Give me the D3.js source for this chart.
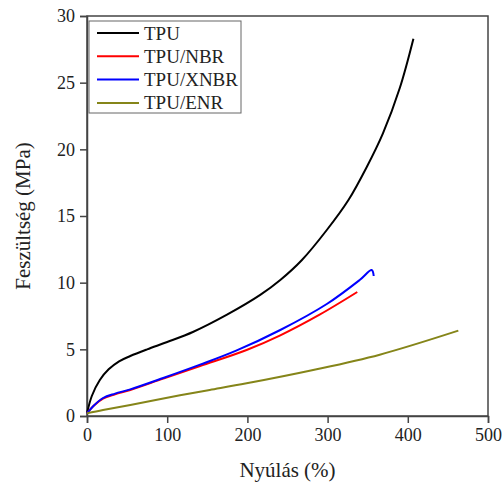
<!DOCTYPE html>
<html>
<head>
<meta charset="utf-8">
<script src="https://cdn.jsdelivr.net/npm/d3@7"></script>
<style>
  body { margin: 0; background: #fff; }
  text { font-family: "Liberation Serif", "Times New Roman", serif; fill: #222; }
</style>
</head>
<body>
<div id="chart"></div>
<script>
// DATA

var seriesNames = ["TPU", "TPU/NBR", "TPU/XNBR", "TPU/ENR"]
var seriesColors = ["#000000", "#ff0000", "#0000ff", "#858519"]

var tpuX = [0, 6, 16, 27, 40, 54, 75, 100, 132, 174, 216, 241, 268, 299, 326, 349, 369, 390, 407]
var tpuY = [0.2, 1.5, 2.7, 3.5, 4.1, 4.5, 5.0, 5.55, 6.3, 7.58, 9.08, 10.2, 11.7, 13.95, 16.2, 18.7, 21.2, 24.6, 28.3]

var nbrX = [0, 8, 20, 35, 54, 95, 141, 199, 241, 290, 337]
var nbrY = [0.2, 0.75, 1.3, 1.62, 1.95, 2.8, 3.75, 4.95, 6.05, 7.6, 9.3]

var xnbrX = [0, 8, 20, 35, 54, 95, 141, 186, 241, 299, 340, 355, 357.5]
var xnbrY = [0.2, 0.75, 1.35, 1.68, 2.0, 2.85, 3.85, 4.9, 6.45, 8.4, 10.2, 10.95, 10.5]

var enrX = [0, 20, 54, 116, 153, 199, 282, 365, 463]
var enrY = [0.2, 0.45, 0.83, 1.55, 1.95, 2.45, 3.45, 4.6, 6.4]

var xTicks = [0, 100, 200, 300, 400, 500]
var yTicks = [0, 5, 10, 15, 20, 25, 30]

// DIMENSIONS

var svgWidth = 503
var svgHeight = 484

var margin = { top: 16, left: 87, right: 15, bottom: 68 }

var width = svgWidth - margin.left - margin.right
var height = svgHeight - margin.top - margin.bottom

var svg = d3.select("#chart").append("svg")
    .attr("width", svgWidth)
    .attr("height", svgHeight)

var chartGroup = svg.append("g")
    .attr("transform", `translate(${margin.left}, ${margin.top})`)

var xScale = d3.scaleLinear().domain([0, 500]).range([0, width])
var yScale = d3.scaleLinear().domain([0, 30]).range([height, 0])

// frame
chartGroup.append("rect")
    .attr("width", width)
    .attr("height", height)
    .attr("fill", "none")
    .attr("stroke", "#444")
    .attr("stroke-width", 1.5)

var xAxis = d3.axisBottom(xScale).tickValues(xTicks).tickSize(7).tickPadding(5)
var yAxis = d3.axisLeft(yScale).tickValues(yTicks).tickSize(7).tickPadding(5)

var gx = chartGroup.append("g")
    .attr("transform", `translate(0,${height})`)
    .call(xAxis)
var gy = chartGroup.append("g")
    .call(yAxis)

;[gx, gy].forEach(g => {
    g.attr("font-family", "'Liberation Serif', serif")
    g.select(".domain").attr("stroke", "#444").attr("stroke-width", 1.5)
    g.selectAll(".tick line").attr("stroke", "#444").attr("stroke-width", 1.5)
    g.selectAll(".tick text")
        .style("font-size", "18px")
        .attr("fill", "#222")
})

// lines
var allX = [tpuX, nbrX, xnbrX, enrX]
var allY = [tpuY, nbrY, xnbrY, enrY]

var line = d3.line()
    .x(d => xScale(d[0]))
    .y(d => yScale(d[1]))
    .curve(d3.curveCatmullRom.alpha(0.5))

allX.forEach((xs, i) => {
    var pts = xs.map((x, j) => [x, allY[i][j]])
    chartGroup.append("path")
        .datum(pts)
        .attr("d", line)
        .attr("fill", "none")
        .attr("stroke", seriesColors[i])
        .attr("stroke-width", 2)
})

// legend
var legend = chartGroup.append("g")
    .attr("transform", "translate(2, 5)")

legend.append("rect")
    .attr("width", 152)
    .attr("height", 92)
    .attr("fill", "#fff")
    .attr("stroke", "#666")
    .attr("stroke-width", 1)

seriesNames.forEach((name, i) => {
    var yy = 12 + i * 23.3
    legend.append("line")
        .attr("x1", 8).attr("x2", 50)
        .attr("y1", yy).attr("y2", yy)
        .attr("stroke", seriesColors[i])
        .attr("stroke-width", 2)
    legend.append("text")
        .attr("x", 55)
        .attr("y", yy + 6.5)
        .style("font-size", "19px")
        .text(name)
})

// axis titles
svg.append("text")
    .attr("x", margin.left + width / 2)
    .attr("y", 477)
    .attr("text-anchor", "middle")
    .style("font-size", "21px")
    .text("Nyúlás (%)")

svg.append("text")
    .attr("transform", `translate(30, ${margin.top + height / 2}) rotate(-90)`)
    .attr("text-anchor", "middle")
    .style("font-size", "21px")
    .text("Feszültség (MPa)")
</script>
</body>
</html>
